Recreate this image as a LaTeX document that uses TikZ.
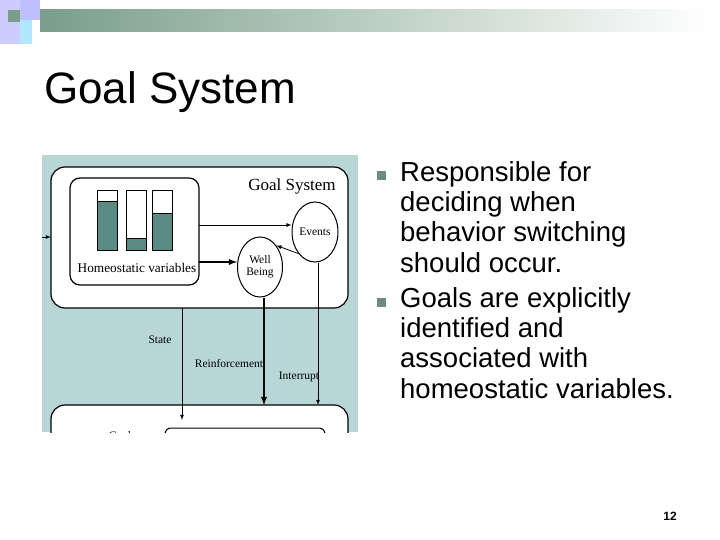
\documentclass[tikz,border=0pt]{standalone}
\usepackage{fontspec}
\usetikzlibrary{shapes.geometric}
\setmainfont{Liberation Sans}
\newfontfamily\serifx{Liberation Serif}
\definecolor{hdr}{HTML}{7A9E8A}
\definecolor{bg}{HTML}{B8D6D6}
\definecolor{barf}{HTML}{5A8A84}
\definecolor{bul}{HTML}{6E8C7E}
\begin{document}
\begin{tikzpicture}[x=1pt,y=-1pt,
  lbl/.style={font=\serifx\fontsize{11.5}{12.5}\selectfont,inner sep=0},
  ln/.style={draw=black,line width=0.8pt,-latex},
  thick ln/.style={draw=black,line width=1.8pt,-latex},
  bull/.style={fill=bul,minimum size=9pt,inner sep=0}]
\useasboundingbox (0,0) rectangle (720,540);
\fill[white] (0,0) rectangle (720,540);
% header band
\shade[left color=hdr, right color=white] (40,10) rectangle (710,32);
\fill[blue!20] (0,0) rectangle (20,44);
\fill[blue!25] (20,0) rectangle (40,10);
\fill[blue!25] (20,10) rectangle (40,20);
\fill[hdr] (8,10) rectangle (20,22);
\fill[blue!30!cyan!30] (20,20) rectangle (32,44);
\node[anchor=west,font=\fontsize{44}{50}\selectfont,inner sep=0] (title) at (44,92) {Goal System};
% image
\begin{scope}
\clip (42,155) rectangle (358,432);
\fill[bg] (42,155) rectangle (358,432);
\draw[line width=1.2pt,fill=white,rounded corners=14pt] (51,167) rectangle (348,308);
\node[coordinate] (outerB) at (182,308) {};
\draw[line width=1.2pt,fill=white,rounded corners=14pt] (51,405) rectangle (348,470);
\draw[line width=1pt,fill=white,rounded corners=6pt] (165,428) rectangle (325,460);
\node[lbl] at (120,436) {Goal};
\draw[line width=1.2pt,fill=white,rounded corners=10pt] (70,178) rectangle (199,285);
\foreach \x/\t in {97/201,126/238,152/213}{
  \draw[line width=0.8pt,fill=white] (\x,190) rectangle (\x+20,250);
  \draw[line width=0.8pt,fill=barf] (\x,\t) rectangle (\x+20,250);
}
\node[lbl,font=\serifx\fontsize{13.3}{14}\selectfont] (hv) at (137,268) {Homeostatic variables};
\node[lbl,font=\serifx\fontsize{17}{18}\selectfont] (gs) at (292,186) {Goal System};
\node[draw,line width=1pt,fill=white,ellipse,minimum width=46pt,minimum height=60pt,inner sep=0,lbl,align=center] (ev) at (315,232) {Events};
\node[draw,line width=1pt,fill=white,ellipse,minimum width=45pt,minimum height=60pt,inner sep=0,lbl,align=center] (wb) at (260,267) {Well\\Being};
\coordinate (hvR1) at (199,225);
\coordinate (hvR2) at (199,262);
\draw[ln] (hvR1) -- (ev.west |- hvR1);
\draw[thick ln] (hvR2) -- (wb.west |- hvR2);
\draw[ln] (ev.south west) -- (wb.north east);
\coordinate (inL) at (42,237);
\coordinate (inR) at (51,237);
\draw[ln] (inL) -- (inR);
\coordinate (stE) at (182,420);
\coordinate (reE) at (264,405);
\coordinate (irE) at (318,405);
\draw[ln] (outerB) -- (stE);
\draw[thick ln] (wb.south -| reE) -- (reE);
\draw[ln] (ev.south -| irE) -- (irE);
\node[lbl] at (160,340) {State};
\node[lbl] at (229,364) {Reinforcement};
\node[lbl] at (299,377) {Interrupt};
\end{scope}
% bullets
\node[bull] (b1) at (381,176) {};
\node[bull] (b2) at (381,302) {};
\node[anchor=north west,align=left,font=\fontsize{27.5}{30.3}\selectfont,inner sep=0] (t1) at (400,161) {Responsible for\\deciding when\\behavior switching\\should occur.};
\node[anchor=north west,align=left,font=\fontsize{27.5}{30.3}\selectfont,inner sep=0] (t2) at (400,287) {Goals are explicitly\\identified and\\associated with\\homeostatic variables.};
\node[font=\bfseries\fontsize{12}{14}\selectfont,inner sep=0] (pg) at (670,516) {12};
\end{tikzpicture}
\end{document}
